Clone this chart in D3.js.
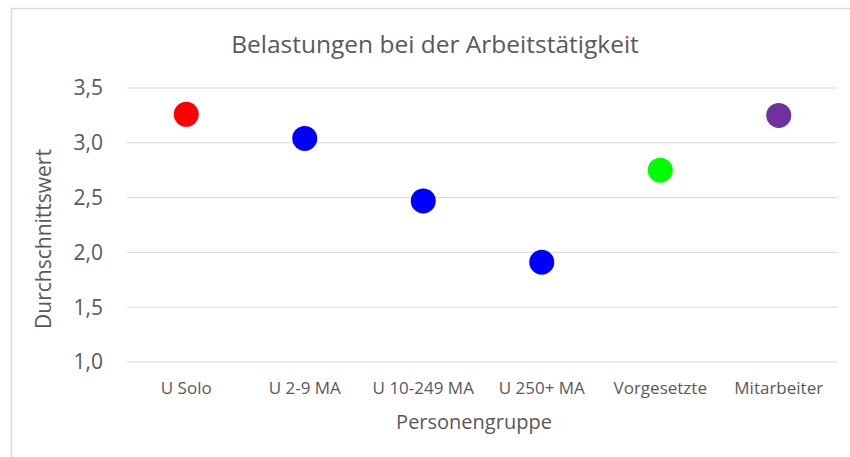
<!DOCTYPE html>
<html>
<head>
<meta charset="utf-8">
<script src="https://cdn.jsdelivr.net/npm/d3@7"></script>
<style>
  html, body { margin: 0; padding: 0; background: #fff; }
  svg { display: block; font-family: "Open Sans", sans-serif; }
</style>
</head>
<body>
<div id="chart"></div>
<script>
// data
const groups = ["U Solo", "U 2-9 MA", "U 10-249 MA", "U 250+ MA", "Vorgesetzte", "Mitarbeiter"];
const values = [3.26, 3.04, 2.47, 1.91, 2.75, 3.25];
const colours = ["#ff0000", "#0000ff", "#0000ff", "#0000ff", "#00ff00", "#7030a0"];
const yTicks = [1.0, 1.5, 2.0, 2.5, 3.0, 3.5];

const width = 850;
const height = 457;
const margin = { top: 88, right: 12, bottom: 95, left: 127 };

const svg = d3.select("#chart").append("svg")
    .attr("width", width)
    .attr("height", height);

// frame (only top + left edges visible)
svg.append("path")
    .attr("d", `M11.5,${height} V8.5 H${width}`)
    .attr("fill", "none")
    .attr("stroke", "#d9d9d9")
    .attr("stroke-width", 1.5);

const x = d3.scaleBand()
    .domain(groups)
    .range([margin.left, width - margin.right]);

const y = d3.scaleLinear()
    .domain([1.0, 3.5])
    .range([height - margin.bottom, margin.top]);

// gridlines
svg.append("g")
    .selectAll("line")
    .data(yTicks)
    .join("line")
    .attr("x1", margin.left)
    .attr("x2", width - margin.right)
    .attr("y1", d => y(d))
    .attr("y2", d => y(d))
    .attr("stroke", "#d9d9d9")
    .attr("stroke-width", 1);

// y tick labels
const fmt = d => d.toFixed(1).replace(".", ",");
svg.append("g")
    .selectAll("text")
    .data(yTicks)
    .join("text")
    .attr("x", 103)
    .attr("y", d => y(d))
    .attr("dy", "0.35em")
    .attr("text-anchor", "end")
    .attr("fill", "#595959")
    .attr("font-size", "21px")
    .text(fmt);

// x tick labels
svg.append("g")
    .selectAll("text")
    .data(groups)
    .join("text")
    .attr("x", d => x(d) + x.bandwidth() / 2)
    .attr("y", 394)
    .attr("text-anchor", "middle")
    .attr("fill", "#595959")
    .attr("font-size", "17px")
    .text(d => d);

// points
svg.append("g")
    .selectAll("circle")
    .data(groups)
    .join("circle")
    .attr("cx", d => x(d) + x.bandwidth() / 2)
    .attr("cy", (d, i) => y(values[i]))
    .attr("r", 12.5)
    .attr("fill", (d, i) => colours[i]);

// title
svg.append("text")
    .attr("x", 435)
    .attr("y", 53)
    .attr("text-anchor", "middle")
    .attr("fill", "#595959")
    .attr("font-size", "24.5px")
    .text("Belastungen bei der Arbeitstätigkeit");

// axis titles
svg.append("text")
    .attr("x", 474)
    .attr("y", 429)
    .attr("text-anchor", "middle")
    .attr("fill", "#595959")
    .attr("font-size", "20px")
    .text("Personengruppe");

svg.append("text")
    .attr("transform", "translate(51,239) rotate(-90)")
    .attr("text-anchor", "middle")
    .attr("fill", "#595959")
    .attr("font-size", "21px")
    .text("Durchschnittswert");
</script>
</body>
</html>
